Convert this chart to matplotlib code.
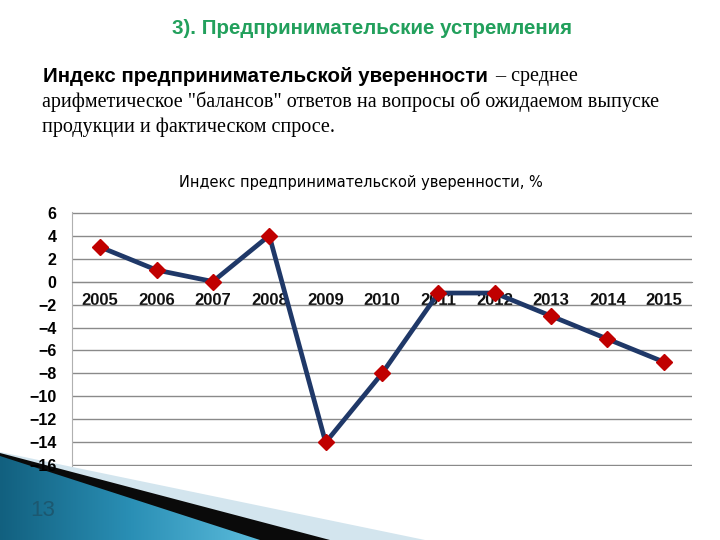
import numpy as np
import matplotlib
matplotlib.use("Agg")
import matplotlib.pyplot as plt
from matplotlib.patches import Polygon
from matplotlib.colors import LinearSegmentedColormap

years = ["2005", "2006", "2007", "2008", "2009", "2010", "2011", "2012", "2013", "2014", "2015"]
index_values = [3, 1, 0, 4, -14, -8, -1, -1, -3, -5, -7]
y_ticks = [6, 4, 2, 0, -2, -4, -6, -8, -10, -12, -14, -16]

header = "3). Предпринимательские устремления"
para_bold = "Индекс предпринимательской уверенности"
para_rest1 = " – среднее"
para_line2 = "арифметическое \"балансов\" ответов на вопросы об ожидаемом выпуске"
para_line3 = "продукции и фактическом спросе."
chart_title = "Индекс предпринимательской уверенности, %"
page_no = "13"

fig = plt.figure(figsize=(7.2, 5.4), dpi=100)
fig.patch.set_facecolor("white")

bg = fig.add_axes([0, 0, 1, 1], zorder=0)
bg.axis("off")

# decorative bottom-left shapes
bg.add_patch(Polygon([(0, 452), (425, 540), (0, 540)], closed=True, color="#d3e5ee", lw=0))
bg.add_patch(Polygon([(0, 453), (330, 540), (0, 540)], closed=True, color="#0a0a0a", lw=0))
blue_poly = Polygon([(0, 456), (260, 540), (0, 540)], closed=True, facecolor="none", lw=0)
bg.add_patch(blue_poly)
grad = np.linspace(0, 1, 256)[None, :]
cmap = LinearSegmentedColormap.from_list("b", ["#12607f", "#2a8fb5", "#5cbcdc"])
im = bg.imshow(grad, extent=(0, 262, 540, 450), cmap=cmap, aspect="auto", zorder=1)
im.set_clip_path(blue_poly)
bg.set_xlim(0, 720)
bg.set_ylim(540, 0)
bg.text(43, 511, page_no, color="#1c5870", fontsize=16, family="Liberation Sans",
        ha="center", va="center", zorder=3)

# header and paragraph
bg.text(372, 28, header, color="#22a05c", fontsize=14.8, fontweight="bold",
        family="Liberation Sans", ha="center", va="center")
bg.text(43, 77, para_bold, color="black", fontsize=14.8, fontweight="bold",
        family="Liberation Sans", ha="left", va="center")
bg.text(491, 77, para_rest1, color="black", fontsize=14.5, family="Liberation Serif",
        ha="left", va="center")
bg.text(42, 102, para_line2, color="black", fontsize=14.5, family="Liberation Serif",
        ha="left", va="center")
bg.text(42, 127, para_line3, color="black", fontsize=14.5, family="Liberation Serif",
        ha="left", va="center")
bg.text(361, 182, chart_title, color="black", fontsize=10.5, family="DejaVu Sans",
        ha="center", va="center")

# chart
ax = fig.add_axes([72 / 720, 1 - 466 / 540, 620 / 720, 254 / 540], zorder=2)
ax.patch.set_alpha(0)
x = np.arange(len(years))
ax.plot(x, index_values, color="#1f3868", lw=3.4, zorder=3,
        marker="D", markersize=8, markerfacecolor="#c00000", markeredgecolor="#c00000")
ax.set_xlim(-0.5, len(years) - 0.5)
ax.set_ylim(-16.05, 6.05)
ax.set_yticks(y_ticks)
ax.set_yticklabels([str(v).replace("-", "−") for v in y_ticks])
ax.set_xticks(x)
ax.set_xticklabels(years)
ax.yaxis.grid(True, color="#8a8a8a", lw=1)
ax.set_axisbelow(True)
ax.spines["bottom"].set_position(("data", 0))
ax.spines["bottom"].set_color("#8a8a8a")
ax.spines["top"].set_visible(False)
ax.spines["right"].set_visible(False)
ax.spines["left"].set_color("#b0b0b0")
ax.tick_params(axis="both", length=0)
ax.tick_params(axis="y", pad=11)
ax.tick_params(axis="x", pad=8)
for lbl in ax.get_yticklabels():
    lbl.set_fontfamily("Liberation Sans")
    lbl.set_fontweight("bold")
    lbl.set_fontsize(11.5)
for lbl in ax.get_xticklabels():
    lbl.set_fontfamily("Liberation Sans")
    lbl.set_fontweight("bold")
    lbl.set_fontsize(12)
    lbl.set_color("#111111")

fig.savefig("out.png", dpi=100)
